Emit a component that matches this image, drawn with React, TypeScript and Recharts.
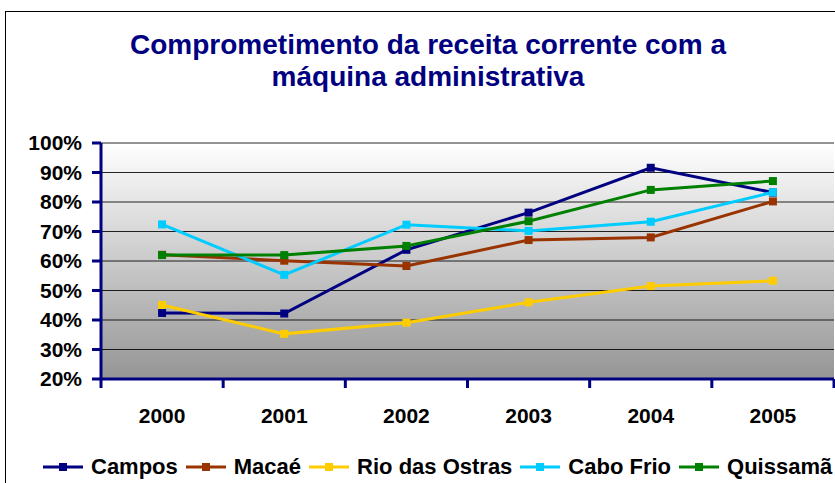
import React from 'react';
import { LineChart, Line, XAxis, YAxis, CartesianGrid } from 'recharts';

const years = ['2000', '2001', '2002', '2003', '2004', '2005'];
const campos = [42.4, 42.2, 63.8, 76.4, 91.6, 83.2];
const macae = [62.1, 60.1, 58.3, 67.1, 68.0, 80.2];
const rioDasOstras = [45.1, 35.3, 39.1, 46.0, 51.5, 53.3];
const caboFrio = [72.4, 55.3, 72.3, 70.2, 73.3, 83.3];
const quissama = [62.0, 62.0, 65.1, 73.5, 84.1, 87.1];
const yTicks = [20, 30, 40, 50, 60, 70, 80, 90, 100];

const series = [
  { key: 'campos', name: 'Campos', values: campos, color: '#000080' },
  { key: 'macae', name: 'Macaé', values: macae, color: '#993300' },
  { key: 'rio', name: 'Rio das Ostras', values: rioDasOstras, color: '#FFCC00' },
  { key: 'cabo', name: 'Cabo Frio', values: caboFrio, color: '#00CCFF' },
  { key: 'quissama', name: 'Quissamã', values: quissama, color: '#008000' },
];

const data = years.map((year, i) => {
  const row: any = { year };
  series.forEach((s) => (row[s.key] = s.values[i]));
  return row;
});

const W = 835;
const H = 483;
const PLOT_LEFT = 101;
const PLOT_RIGHT = 834;
const band = (PLOT_RIGHT - PLOT_LEFT) / years.length;
const font = '"Liberation Sans", Arial, sans-serif';

// x ticks sit between the categories, labels at the centres
const XTick = (props: any) => {
  const { x, y, payload, index } = props;
  return (
    <g>
      <line x1={x - band / 2} x2={x - band / 2} y1={y} y2={y + 9} stroke="#000080" strokeWidth={3} />
      {index === years.length - 1 && (
        <line x1={x + band / 2} x2={x + band / 2} y1={y} y2={y + 9} stroke="#000080" strokeWidth={3} />
      )}
      <text x={x} y={y + 44} textAnchor="middle" fontFamily={font} fontWeight="bold" fontSize={21} fill="#000">
        {payload.value}
      </text>
    </g>
  );
};

const squareDot = (color: string) => (props: any) => (
  <rect key={`d-${props.index}`} x={props.cx - 4} y={props.cy - 4} width={8} height={8} fill={color} />
);

export default function App() {
  return (
    <div style={{ position: 'absolute', left: 0, top: 0, width: W, height: H, overflow: 'hidden', background: '#fff', fontFamily: font }}>
      <div style={{ position: 'absolute', left: 5, top: 11, width: 850, height: 500, border: '1px solid #000' }} />
      <div style={{ position: 'absolute', left: 0, width: 856, top: 29, textAlign: 'center', color: '#000080', fontWeight: 'bold', fontSize: 28, lineHeight: '32px' }}>
        Comprometimento da receita corrente com a<br />máquina administrativa
      </div>
      <div style={{ position: 'absolute', left: 0, top: 0 }}>
        <LineChart width={W} height={H} data={data} margin={{ top: 143, right: W - PLOT_RIGHT, left: 0, bottom: 44 }}>
          <defs>
            <linearGradient id="bg" x1="0" y1="0" x2="0" y2="1">
              <stop offset="0%" stopColor="#ffffff" />
              <stop offset="100%" stopColor="#959595" />
            </linearGradient>
          </defs>
          <CartesianGrid vertical={false} stroke="#000" strokeOpacity={0.85} fill="url(#bg)" />
          <XAxis
            dataKey="year"
            height={60}
            padding={{ left: band / 2, right: band / 2 }}
            tick={<XTick />}
            tickLine={false}
            tickSize={0}
            tickMargin={0}
            axisLine={{ stroke: '#000080', strokeWidth: 3 }}
            interval={0}
          />
          <YAxis
            width={PLOT_LEFT}
            domain={[20, 100]}
            ticks={yTicks}
            tickFormatter={(v: number) => `${v}%`}
            tickSize={9}
            tickMargin={10}
            tickLine={{ stroke: '#000080', strokeWidth: 3 }}
            axisLine={{ stroke: '#000080', strokeWidth: 3 }}
            tick={{ fill: '#000', fontFamily: font, fontWeight: 'bold', fontSize: 21 }}
            interval={0}
          />
          {series.map((s) => (
            <Line
              key={s.key}
              dataKey={s.key}
              name={s.name}
              stroke={s.color}
              strokeWidth={3}
              dot={squareDot(s.color)}
              activeDot={false}
              isAnimationActive={false}
            />
          ))}
        </LineChart>
      </div>
      <div style={{ position: 'absolute', left: 43, top: 454, display: 'flex', alignItems: 'center', whiteSpace: 'nowrap', fontWeight: 'bold', fontSize: 22, color: '#000' }}>
        {series.map((s) => (
          <div key={s.key} style={{ display: 'flex', alignItems: 'center', marginRight: 8 }}>
            <svg width={40} height={12} style={{ marginRight: 8 }}>
              <line x1={0} x2={40} y1={6} y2={6} stroke={s.color} strokeWidth={3} />
              <rect x={16} y={2} width={8} height={8} fill={s.color} />
            </svg>
            <span>{s.name}</span>
          </div>
        ))}
      </div>
    </div>
  );
}
